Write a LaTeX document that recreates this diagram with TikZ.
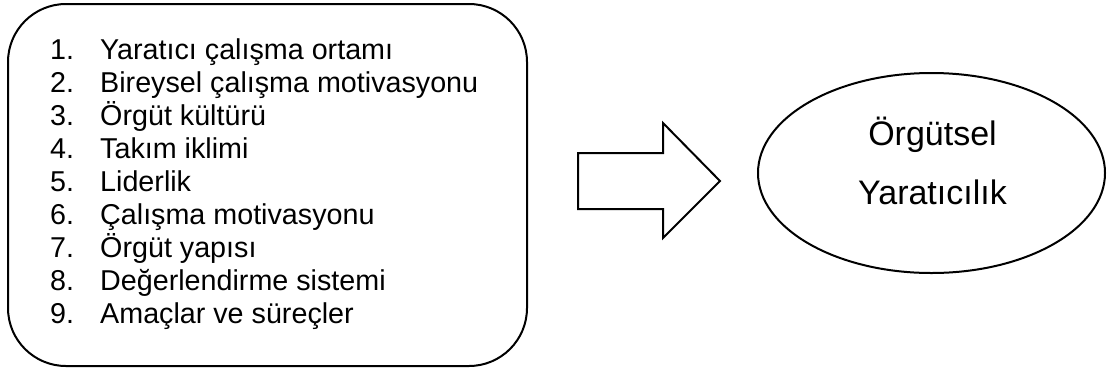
\documentclass[tikz,border=0pt]{standalone}
\usepackage{fontspec}
\setmainfont{Liberation Sans}
\usetikzlibrary{shapes.geometric}
\begin{document}
\begin{tikzpicture}[x=1pt,y=-1pt,
  outline/.style={draw=black,line width=2pt},
  listtxt/.style={anchor=base west,inner sep=0pt,font=\fontsize{28.7}{33}\selectfont},
  ovaltxt/.style={anchor=base,inner sep=0pt,font=\fontsize{34}{38}\selectfont}]
\useasboundingbox (0,0) rectangle (1108,376);
\node[outline,rounded corners=58pt,minimum width=519pt,minimum height=362pt,inner sep=0pt] (box) at (267.5,185) {};
\foreach \t [count=\i] in {Yaratıcı çalışma ortamı,Bireysel çalışma motivasyonu,Örgüt kültürü,Takım iklimi,Liderlik,Çalışma motivasyonu,Örgüt yapısı,Değerlendirme sistemi,Amaçlar ve süreçler}{
  \node[listtxt] (n\i) at (50,{59+33.05*(\i-1)}) {\i.};
  \node[listtxt] (t\i) at (100,{59+33.05*(\i-1)}) {\t};
}
\draw[outline,line join=miter] (578,153) -- (663,153) -- (663,123) -- (720,181) -- (663,238) -- (663,209) -- (578,209) -- cycle;
\node[outline,ellipse,minimum width=347pt,minimum height=200pt,inner sep=0pt] (oval) at (931.5,173) {};
\node[ovaltxt] (o1) at (932.5,145) {Örgütsel};
\node[ovaltxt] (o2) at (932.5,204) {Yaratıcılık};
\end{tikzpicture}
\end{document}
